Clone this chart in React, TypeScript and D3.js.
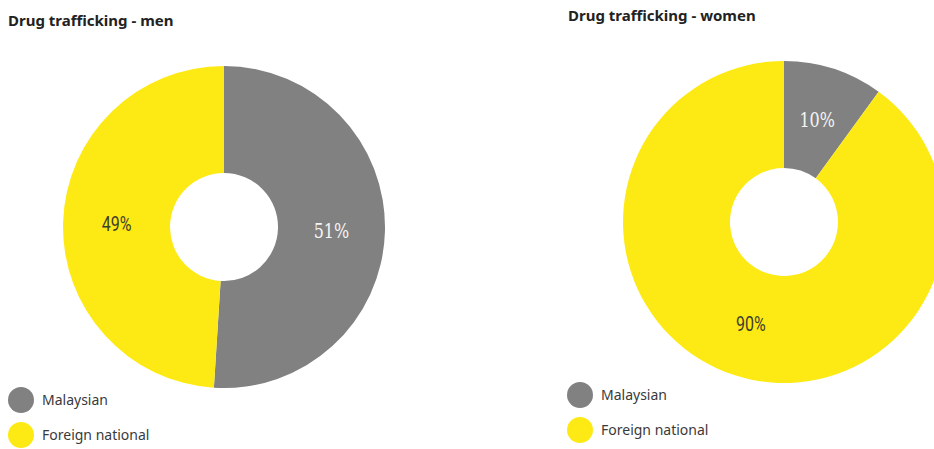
import React from "react";
import * as d3 from "d3";

const categories = ["Malaysian", "Foreign national"];
const menValues = [51, 49];
const womenValues = [10, 90];
const titles = ["Drug trafficking - men", "Drug trafficking - women"];
const colors = ["#818181", "#FDEA14"];
const labelColors = ["#f4f4f4", "#3c3c30"];

const W = 934;
const H = 449;

function Donut({ values, cx, cy }: { values: number[]; cx: number; cy: number }) {
  const R = 161;
  const r = 54;
  const pie = d3.pie<number>().sort(null).value((d) => d);
  const arc = d3.arc<d3.PieArcDatum<number>>().innerRadius(r).outerRadius(R);
  const labelArc = d3.arc<d3.PieArcDatum<number>>().innerRadius(r + 2).outerRadius(R - 2);
  const arcs = pie(values);
  return (
    <g transform={`translate(${cx},${cy})`}>
      {arcs.map((a, i) => (
        <path key={i} d={arc(a) || ""} fill={colors[i]} />
      ))}
      {arcs.map((a, i) => {
        const [x, y] = labelArc.centroid(a);
        return (
          <text
            key={"t" + i}
            x={x}
            y={y}
            textAnchor="middle"
            dominantBaseline="central"
            fontFamily={i === 0 ? "'DejaVu Serif', serif" : "'Roboto', sans-serif"}
            fontSize={20}
            fill={labelColors[i]}
            transform={`translate(${x},${y}) scale(0.8,1) translate(${-x},${-y})`}
          >
            {a.data}%
          </text>
        );
      })}
    </g>
  );
}

function Legend({ x, y }: { x: number; y: number }) {
  return (
    <g transform={`translate(${x},${y})`}>
      {categories.map((c, i) => (
        <g key={c} transform={`translate(0,${i * 35})`}>
          <circle cx={0} cy={0} r={13} fill={colors[i]} />
          <text x={21} y={5} fontFamily="'Noto Sans', sans-serif" fontSize={14} fill="#3a3a3a">
            {c}
          </text>
        </g>
      ))}
    </g>
  );
}

export default function App() {
  return (
    <svg width={W} height={H} style={{ position: "absolute", left: 0, top: 0, background: "#fff" }}>
      <text x={8} y={26} fontFamily="'Noto Sans', sans-serif" fontWeight="bold" fontSize={15} fill="#222">
        {titles[0]}
      </text>
      <text x={568} y={21} fontFamily="'Noto Sans', sans-serif" fontWeight="bold" fontSize={15} fill="#222">
        {titles[1]}
      </text>
      <Donut values={menValues} cx={224} cy={227} />
      <Donut values={womenValues} cx={784} cy={222} />
      <Legend x={21} y={400} />
      <Legend x={580} y={395} />
    </svg>
  );
}
